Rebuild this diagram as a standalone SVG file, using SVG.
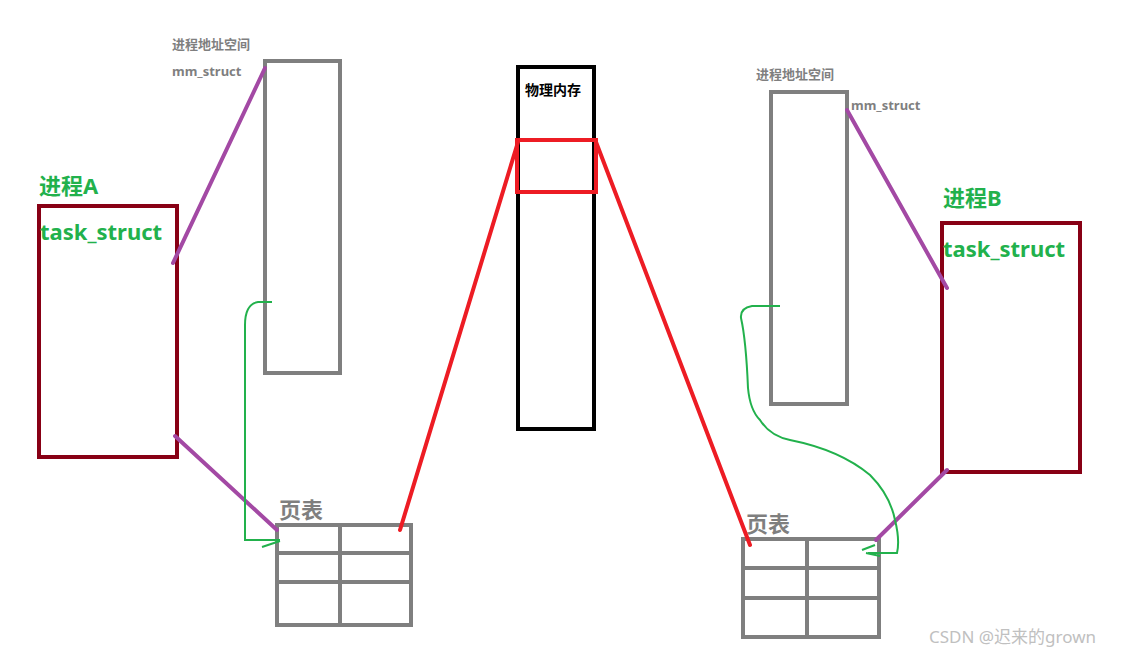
<svg xmlns="http://www.w3.org/2000/svg" width="1138" height="657" viewBox="0 0 1138 657">
<style>
.proc{fill:none;stroke:#880015;stroke-width:4}
.gray{fill:none;stroke:#7f7f7f;stroke-width:4}
.pur{stroke:#a349a4;stroke-width:4;fill:none;stroke-linecap:round}
.red{stroke:#ed1c24;stroke-width:4;fill:none;stroke-linecap:round}
.grn{stroke:#22b14c;stroke-width:2;fill:none}
.t{font-family:"Noto Sans","Noto Sans CJK SC",sans-serif;font-weight:bold}
.g{fill:#22b14c;font-size:22px}
.s{fill:#7f7f7f;font-size:13px}
.pt{fill:#7f7f7f;font-size:22px}
</style>
<rect width="1138" height="657" fill="#fff"/>
<g id="procA"><rect class="proc" x="39" y="206" width="138" height="251"/><text class="t g" x="39" y="194">进程A</text><text class="t g" x="40" y="240">task_struct</text></g>
<g id="asA"><rect class="gray" x="265" y="61" width="75" height="312"/><text class="t s" x="172" y="49">进程地址空间</text><text class="t s" x="172" y="76">mm_struct</text></g>
<g id="mem"><rect fill="none" stroke="#000" stroke-width="4" x="518" y="67" width="76" height="362"/><rect fill="none" stroke="#ed1c24" stroke-width="4" x="517" y="140" width="79" height="52"/><text class="t" font-size="14" x="525" y="95">物理内存</text></g>
<g id="ptA"><rect class="gray" x="277" y="525" width="134" height="100"/><path class="gray" d="M277 553H411M277 582H411M340 525V625"/><text class="t pt" x="279" y="518">页表</text></g>
<g id="asB"><rect class="gray" x="771" y="92" width="76" height="312"/><text class="t s" x="756" y="79">进程地址空间</text><text class="t s" x="851" y="110">mm_struct</text></g>
<g id="procB"><rect class="proc" x="942" y="223" width="138" height="249"/><text class="t g" x="943" y="206">进程B</text><text class="t g" x="943" y="257">task_struct</text></g>
<g id="ptB"><rect class="gray" x="743" y="539" width="136" height="98"/><path class="gray" d="M743 568H879M743 598H879M807 539V637"/><text class="t pt" x="746" y="532">页表</text></g>
<g id="connectors">
<path class="pur" d="M173 263L265 68M175 436L277 530M847 110L947 288M876 540L947 470"/>
<path class="red" d="M400 530L518 142M596 142L750 545"/>
<path class="grn" d="M272 302H258Q245 304 245 325V540H280M262 547L280 541"/>
<path class="grn" d="M780 306H752Q740 308 741 318Q746 340 748 388Q750 410 760 420Q770 436 790 440Q840 450 870 475Q890 495 895 520Q900 540 897 553H868M862 550L875 545M866 553L880 556"/>
</g>
<text x="929" y="643" font-family="'Noto Sans','Noto Sans CJK SC',sans-serif" font-size="17" fill="#c0c0c0">CSDN @迟来的grown</text>
</svg>
